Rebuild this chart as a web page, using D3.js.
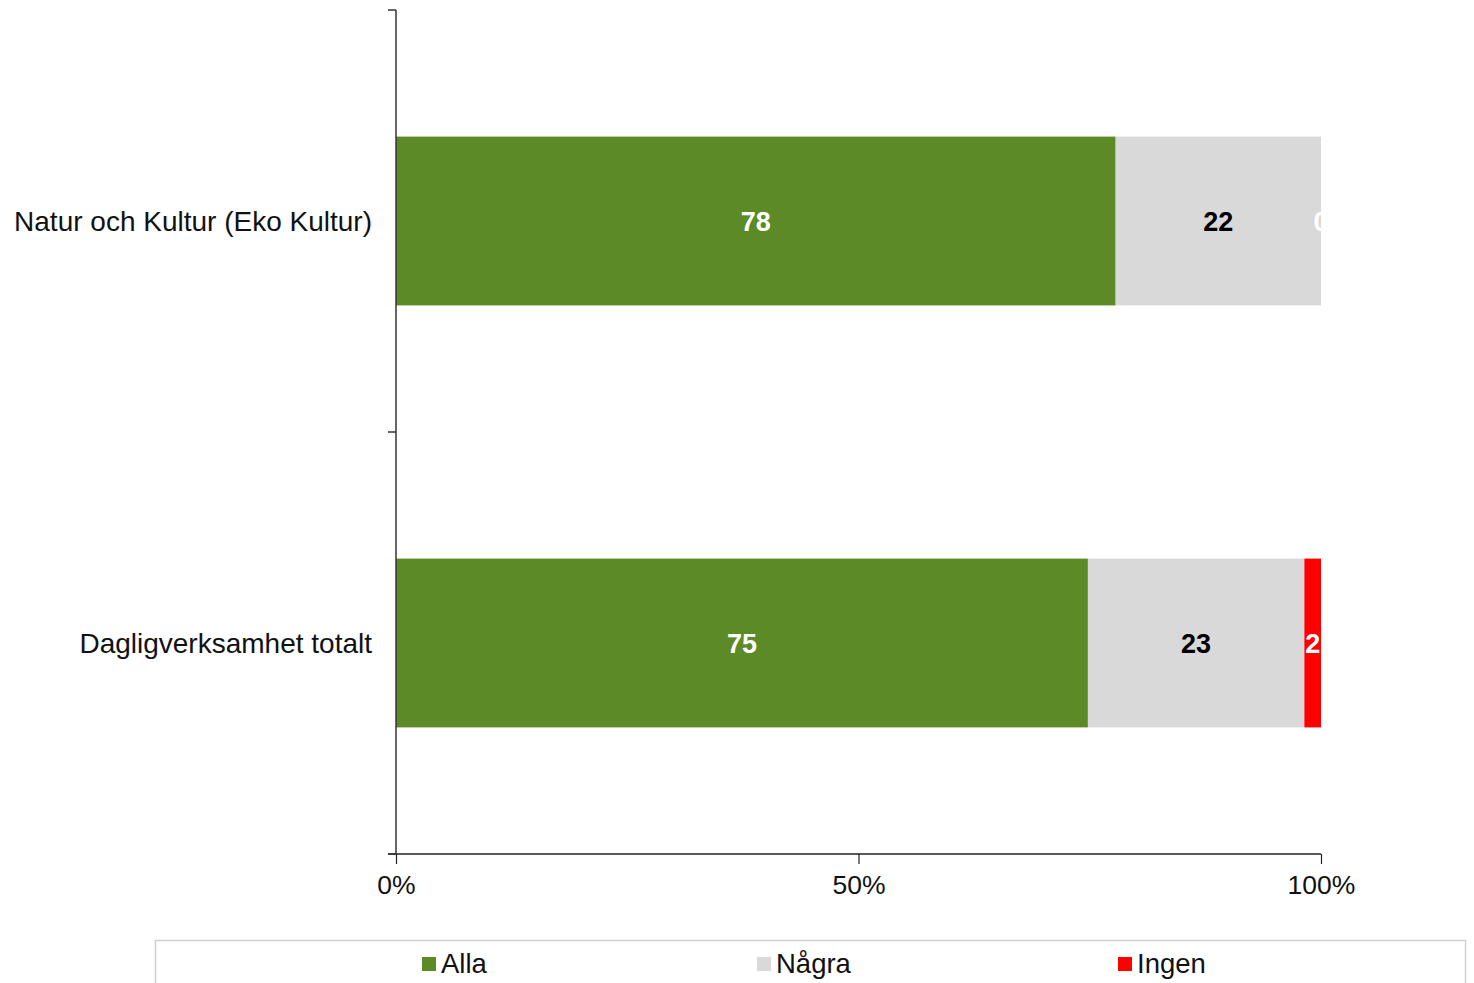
<!DOCTYPE html>
<html lang="sv">
<head>
<meta charset="UTF-8" />
<script src="https://d3js.org/d3.v7.min.js"></script>
<style>
  body { margin: 0; background: #fff; }
  text { font-family: "Liberation Sans", Arial, sans-serif; }
</style>
</head>
<body>
<svg width="1474" height="983"></svg>
<script>
// data
var categories = ["Natur och Kultur (Eko Kultur)", "Dagligverksamhet totalt"];
var seriesNames = ["Alla", "Några", "Ingen"];
var allaVals = [77.8, 74.8];
var nagraVals = [22.2, 23.4];
var ingenVals = [0, 1.8];
var xTicks = [0, 0.5, 1];

var colors = ["#5b8a26", "#d9d9d9", "#ff0000"];
var labelColors = ["#ffffff", "#000000", "#ffffff"];

var svg = d3.select("svg");
var plotL = 396, plotR = 1321, plotT = 10, plotB = 854;

var x = d3.scaleLinear().domain([0, 100]).range([plotL, plotR]);
var y = d3.scaleBand().domain(categories).range([plotT, plotB])
  .paddingInner(0.6).paddingOuter(0.3);

// stacked table
var rows = categories.map(function(c, i) {
  return { cat: c, Alla: allaVals[i], "Några": nagraVals[i], Ingen: ingenVals[i] };
});
var stack = d3.stack().keys(seriesNames)(rows);

svg.append("clipPath").attr("id", "plot")
  .append("rect").attr("x", plotL).attr("y", plotT).attr("width", plotR - plotL + 1).attr("height", plotB - plotT);

var layers = svg.selectAll("g.layer")
  .data(stack)
  .enter().append("g")
  .attr("class", "layer")
  .attr("fill", function(d, i) { return colors[i]; });

layers.selectAll("rect")
  .data(function(d) { return d; })
  .enter().append("rect")
  .attr("x", function(d) { return x(d[0]); })
  .attr("y", function(d) { return y(d.data.cat); })
  .attr("width", function(d) { return x(d[1]) - x(d[0]); })
  .attr("height", y.bandwidth());

// value labels
var lbl = svg.append("g").attr("clip-path", "url(#plot)");
stack.forEach(function(s, si) {
  lbl.selectAll("text.s" + si)
    .data(s)
    .enter().append("text")
    .attr("x", function(d) { return x((d[0] + d[1]) / 2); })
    .attr("y", function(d) { return y(d.data.cat) + y.bandwidth() / 2; })
    .attr("dy", "0.36em")
    .attr("text-anchor", "middle")
    .attr("fill", labelColors[si])
    .style("font-size", "27px")
    .style("font-weight", "bold")
    .text(function(d) { return d3.format(".0f")(d[1] - d[0]); });
});

// x axis
var xAxis = d3.axisBottom(x)
  .tickValues(xTicks.map(function(t) { return t * 100; }))
  .tickFormat(function(d) { return d + "%"; })
  .tickSize(10).tickSizeOuter(0);
var gx = svg.append("g").attr("transform", "translate(0," + plotB + ")").call(xAxis);
gx.select(".domain").attr("stroke", "#222").attr("stroke-width", 1.5)
  .attr("d", "M" + (plotL - 8) + ",0H" + plotR);
gx.selectAll(".tick line").attr("stroke", "#222").attr("stroke-width", 1.2);
gx.selectAll(".tick text").attr("fill", "#111").style("font-size", "26.5px")
  .style("font-family", "Liberation Sans, Arial, sans-serif").attr("dy", "1.0em");

// y axis: line plus ticks at band boundaries
svg.append("line").attr("x1", plotL).attr("x2", plotL).attr("y1", plotT).attr("y2", plotB)
  .attr("stroke", "#333").attr("stroke-width", 1.5);
var boundaries = [plotT].concat(categories.map(function(c) { return y(c) + y.step() * 0.7; }));
svg.selectAll("line.ytick").data(boundaries).enter().append("line")
  .attr("class", "ytick")
  .attr("x1", plotL - 8).attr("x2", plotL)
  .attr("y1", function(d) { return d; }).attr("y2", function(d) { return d; })
  .attr("stroke", "#333").attr("stroke-width", 1.5);

svg.selectAll("text.cat").data(categories).enter().append("text")
  .attr("class", "cat")
  .attr("x", 372)
  .attr("y", function(d) { return y(d) + y.bandwidth() / 2; })
  .attr("dy", "0.36em")
  .attr("text-anchor", "end")
  .attr("fill", "#111")
  .style("font-size", "28px")
  .text(function(d) { return d; });

// legend
svg.append("rect").attr("x", 155.5).attr("y", 940.5).attr("width", 1310).attr("height", 60)
  .attr("fill", "none").attr("stroke", "#d0d0d0").attr("stroke-width", 1.5);
var legX = [422, 757, 1118];
var leg = svg.selectAll("g.leg").data(seriesNames).enter().append("g")
  .attr("transform", function(d, i) { return "translate(" + legX[i] + ",0)"; });
leg.append("rect").attr("x", 0).attr("y", 957).attr("width", 14).attr("height", 14)
  .attr("fill", function(d, i) { return colors[i]; });
leg.append("text").attr("x", 19).attr("y", 973).attr("fill", "#111")
  .style("font-size", "27.5px").text(function(d) { return d; });
</script>
</body>
</html>
